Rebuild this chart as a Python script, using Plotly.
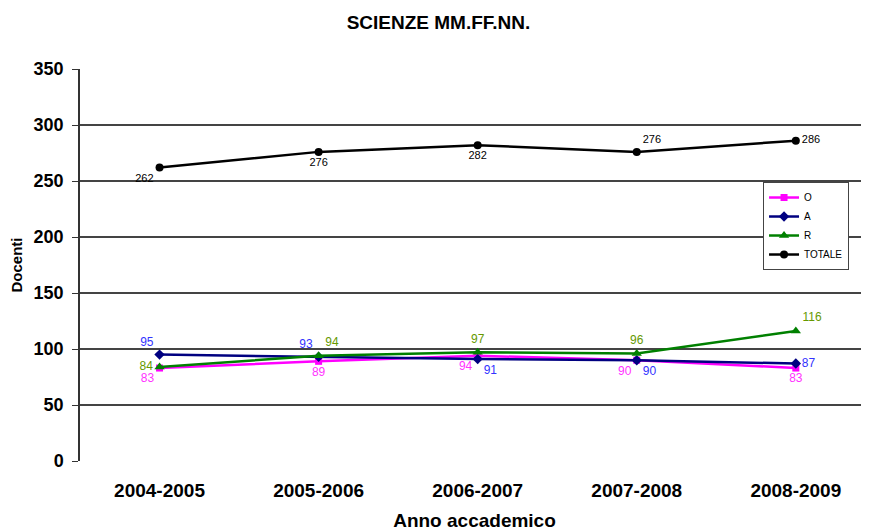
import plotly.graph_objects as go

anni = ["2004-2005", "2005-2006", "2006-2007", "2007-2008", "2008-2009"]
o_vals = [83, 89, 94, 90, 83]
a_vals = [95, 93, 91, 90, 87]
r_vals = [84, 94, 97, 96, 116]
totale = [262, 276, 282, 276, 286]

FONT = "Arial, Liberation Sans, sans-serif"

series = [
    ("O", o_vals, "#FF00FF", "#FF33FF", "square", 7, 12,
     ["bottom left", "bottom center", "bottom left", "bottom left", "bottom center"]),
    ("A", a_vals, "#000080", "#3333FF", "diamond", 8, 12,
     ["top left", "top left", "bottom right", "bottom right", "middle right"]),
    ("R", r_vals, "#008000", "#669900", "triangle-up", 9, 12,
     ["middle left", "top right", "top center", "top center", "top right"]),
    ("TOTALE", totale, "#000000", "#000000", "circle", 8, 11,
     ["bottom left", "bottom center", "bottom center", "top right", "middle right"]),
]

fig = go.Figure()
for name, vals, col, tcol, sym, size, fsize, pos in series:
    fig.add_trace(go.Scatter(
        x=anni, y=vals, name=name, mode="lines+markers+text",
        line=dict(color=col, width=2.5),
        marker=dict(symbol=sym, size=size, color=col),
        text=[str(v) for v in vals], textposition=pos,
        textfont=dict(family=FONT, size=fsize, color=tcol),
        cliponaxis=False,
    ))

# page body has an 8px margin, so the figure is sized to fill the rest
fig.update_layout(
    width=861, height=523,
    margin=dict(l=72, r=0, t=61, b=70, autoexpand=False),
    paper_bgcolor="white", plot_bgcolor="white",
    title=dict(text="<b>SCIENZE MM.FF.NN.</b>", x=0.5, xanchor="center",
               y=0.973, yanchor="middle",
               font=dict(family=FONT, size=19, color="black")),
    showlegend=True,
    legend=dict(x=0.8657, y=0.7117, xanchor="left", yanchor="top",
                bgcolor="white", bordercolor="#444", borderwidth=1,
                font=dict(family=FONT, size=10, color="black"),
                tracegroupgap=0, itemwidth=30),
    xaxis=dict(range=[-0.5, 4.46], showgrid=False, showline=False, zeroline=False,
               automargin=False, ticks="", ticklabelstandoff=16,
               tickfont=dict(family=FONT, size=19, color="black"),
               tickprefix="<b>", ticksuffix="</b>",
               title=dict(text="<b>Anno accademico</b>", standoff=14,
                          font=dict(family=FONT, size=19, color="black"))),
    yaxis=dict(range=[0, 350], dtick=50, showgrid=True, gridcolor="#444", gridwidth=1.5,
               zeroline=False, showline=True, linecolor="#333", linewidth=1.5,
               automargin=False, ticks="outside", ticklen=6, tickcolor="#333",
               ticklabelstandoff=5,
               tickfont=dict(family=FONT, size=18, color="black"),
               tickprefix="<b>", ticksuffix="</b>",
               title=dict(text="<b>Docenti</b>", standoff=8,
                          font=dict(family=FONT, size=15, color="black"))),
)

fig.write_html("out.html")
